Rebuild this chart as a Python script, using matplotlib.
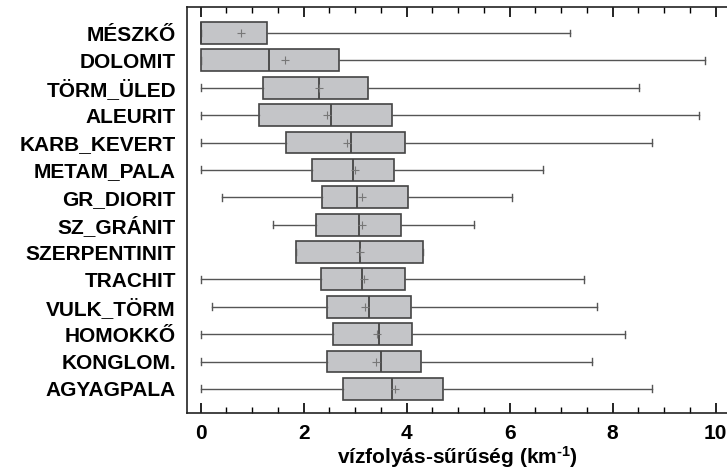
import numpy as np
import matplotlib
matplotlib.use('Agg')
import matplotlib.pyplot as plt
from matplotlib.ticker import MultipleLocator

plt.rcParams['font.family'] = ['Liberation Sans', 'DejaVu Sans']
plt.rcParams['font.weight'] = 'bold'
plt.rcParams['mathtext.fontset'] = 'custom'
plt.rcParams['mathtext.rm'] = 'Liberation Sans:bold'
plt.rcParams['mathtext.default'] = 'rm'

# kőzettípusok és statisztikák (km^-1)
kozetek = ['MÉSZKŐ', 'DOLOMIT', 'TÖRM_ÜLED', 'ALEURIT', 'KARB_KEVERT', 'METAM_PALA',
           'GR_DIORIT', 'SZ_GRÁNIT', 'SZERPENTINIT', 'TRACHIT', 'VULK_TÖRM',
           'HOMOKKŐ', 'KONGLOM.', 'AGYAGPALA']
minimum = [0.0, 0.0, 0.0, 0.0, 0.0, 0.0, 0.41, 1.40, 1.86, 0.0, 0.22, 0.0, 0.0, 0.0]
q1 = [0.0, 0.0, 1.21, 1.13, 1.66, 2.16, 2.36, 2.23, 1.86, 2.34, 2.46, 2.57, 2.46, 2.76]
median = [0.0, 1.32, 2.29, 2.53, 2.92, 2.96, 3.04, 3.07, 3.09, 3.13, 3.26, 3.46, 3.50, 3.71]
q3 = [1.28, 2.68, 3.24, 3.71, 3.97, 3.76, 4.02, 3.88, 4.32, 3.97, 4.08, 4.10, 4.28, 4.71]
maximum = [7.17, 9.79, 8.52, 9.68, 8.76, 6.65, 6.04, 5.31, 4.32, 7.44, 7.70, 8.23, 7.60, 8.76]
atlag = [0.78, 1.63, 2.30, 2.45, 2.85, 2.99, 3.13, 3.13, 3.10, 3.18, 3.20, 3.42, 3.40, 3.77]

stats = []
for i in range(len(kozetek)):
    stats.append(dict(label=kozetek[i], whislo=minimum[i], q1=q1[i], med=median[i],
                      q3=q3[i], whishi=maximum[i], mean=atlag[i], fliers=[]))

fig = plt.figure(figsize=(7.27, 4.73), dpi=100)
ax = fig.add_axes([187 / 727, 1 - 413 / 473, 540 / 727, 406 / 473])

pos = np.arange(1, len(kozetek) + 1)
ax.bxp(stats, positions=pos, vert=False, widths=0.8, patch_artist=True,
       showmeans=True, capwidths=0.25,
       boxprops=dict(facecolor='#c4c5c8', edgecolor='#444444', linewidth=1.2),
       medianprops=dict(color='#444444', linewidth=1.3),
       whiskerprops=dict(color='#555555', linewidth=1.0),
       capprops=dict(color='#555555', linewidth=1.0),
       meanprops=dict(marker='+', markeredgecolor='#777777', markersize=6,
                      markeredgewidth=0.8))

ax.set_xlim(-0.266, 10.22)
ax.set_ylim(14.88, 0.05)
ax.set_yticks(pos)
ax.set_yticklabels(kozetek, fontsize=15, fontweight='bold')
ax.tick_params(axis='y', length=0, pad=8)

ax.xaxis.set_major_locator(MultipleLocator(2))
ax.xaxis.set_minor_locator(MultipleLocator(0.5))
ax.tick_params(axis='x', which='both', direction='in', top=True, bottom=True,
               labelsize=15, pad=8)
ax.tick_params(axis='x', which='major', length=7, width=1.2)
ax.tick_params(axis='x', which='minor', length=4, width=1.0)
for lab in ax.get_xticklabels():
    lab.set_fontweight('bold')

ax.spines['right'].set_visible(False)
for s in ['left', 'top', 'bottom']:
    ax.spines[s].set_linewidth(1.2)
    ax.spines[s].set_color('#222222')

ax.set_xlabel(r'vízfolyás-sűrűség (km$^{\text{-1}}$)', fontsize=15, fontweight='bold',
              labelpad=1)

fig.savefig('out.png', dpi=100)
